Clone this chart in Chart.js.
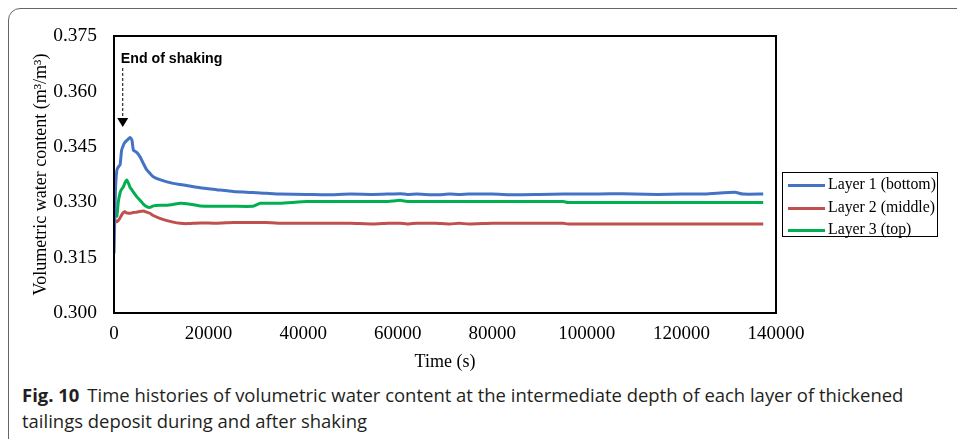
<!DOCTYPE html>
<html lang="en">
  <head>
    <meta charset="UTF-8" />
    <title>Volumetric water content</title>
    <style>
      html, body {
        margin: 0;
        padding: 0;
        width: 957px;
        height: 439px;
        overflow: hidden;
        background: #fff;
      }
      .frame {
        position: absolute;
        left: 8px;
        top: 8px;
        width: 1000px;
        height: 500px;
        border: 1.5px solid #666;
        border-radius: 12px;
      }
      .chartBox {
        position: absolute;
        left: 0;
        top: 0;
        width: 957px;
        height: 375px;
      }
      .legend {
        position: absolute;
        left: 782px;
        top: 172px;
        width: 154px;
        height: 63px;
        border: 1.5px solid #000;
        font-family: "Liberation Serif", "Times New Roman", serif;
        font-size: 15.8px;
        color: #000;
      }
      .legend .item {
        position: absolute;
        left: 5px;
        height: 20px;
        line-height: 20px;
        white-space: nowrap;
      }
      .legend .swatch {
        display: inline-block;
        width: 37px;
        height: 3px;
        vertical-align: middle;
        margin-right: 3px;
      }
      .caption {
        position: absolute;
        left: 22px;
        font-family: "Open Sans", "Noto Sans", sans-serif;
        font-size: 18.5px;
        line-height: 22px;
        color: #231f20;
        white-space: nowrap;
        transform-origin: 0 50%;
      }
      .caption b {
        margin-right: 8px;
      }
    </style>
  </head>
  <body>
    <div class="frame"></div>
    <div class="chartBox"><canvas id="vwc" width="957" height="375"></canvas></div>
    <div class="legend" id="legend"></div>
    <div class="caption" id="cap1" style="top: 384px"><b>Fig. 10</b>Time histories of volumetric water content at the intermediate depth of each layer of thickened</div>
    <div class="caption" id="cap2" style="top: 410px">tailings deposit during and after shaking</div>

    <script src="https://cdn.jsdelivr.net/npm/chart.js"></script>
    <script>
      // time (s)
      const times = [0, 300, 600, 900, 1300, 1600, 2000, 2300, 2700, 3100, 3400, 3800, 4100, 4800, 5500,
        6200, 6900, 7600, 8300, 9700, 11200, 12500, 14000, 15400, 18200, 21700, 25200, 29400, 30900, 32300,
        35100, 40800, 45000, 50000, 54800, 58000, 60500, 62000, 64000, 68000, 71000, 73000, 75000, 80000,
        85000, 90000, 95000, 96000, 100000, 105000, 110000, 115000, 120000, 125000, 131300, 133000, 137300];

      const layer1 = [0.3161, 0.3330, 0.3387, 0.3395, 0.3402, 0.3440, 0.3455, 0.3462, 0.3467, 0.3472, 0.3475,
        0.3468, 0.3441, 0.3435, 0.3423, 0.3405, 0.3388, 0.3378, 0.3369, 0.3361, 0.3355, 0.3351, 0.3348,
        0.3345, 0.3339, 0.3334, 0.3329, 0.3326, 0.3325, 0.3324, 0.3322, 0.3321, 0.3320, 0.3322, 0.3321,
        0.3322, 0.3323, 0.3321, 0.3322, 0.3320, 0.3322, 0.3321, 0.3322, 0.3322, 0.3320, 0.3321, 0.3322,
        0.3322, 0.3322, 0.3323, 0.3322, 0.3321, 0.3322, 0.3322, 0.3327, 0.3322, 0.3322];

      const layer2 = [0.3256, 0.3250, 0.3247, 0.3250, 0.3258, 0.3265, 0.3272, 0.3274, 0.3271, 0.3270, 0.3270,
        0.3271, 0.3272, 0.3273, 0.3275, 0.3276, 0.3273, 0.3270, 0.3264, 0.3256, 0.3250, 0.3246, 0.3243,
        0.3242, 0.3244, 0.3243, 0.3245, 0.3245, 0.3245, 0.3245, 0.3243, 0.3243, 0.3243, 0.3243, 0.3241,
        0.3243, 0.3243, 0.3241, 0.3243, 0.3243, 0.3241, 0.3243, 0.3241, 0.3243, 0.3243, 0.3243, 0.3243,
        0.3241, 0.3241, 0.3241, 0.3241, 0.3241, 0.3241, 0.3241, 0.3241, 0.3241, 0.3241];

      const layer3 = [0.3274, 0.3268, 0.3262, 0.3300, 0.3326, 0.3335, 0.3342, 0.3352, 0.3360, 0.3350, 0.3340,
        0.3333, 0.3327, 0.3315, 0.3305, 0.3295, 0.3288, 0.3286, 0.3290, 0.3292, 0.3292, 0.3294, 0.3297,
        0.3296, 0.3290, 0.3289, 0.3289, 0.3289, 0.3297, 0.3297, 0.3297, 0.3302, 0.3302, 0.3302, 0.3302,
        0.3302, 0.3305, 0.3302, 0.3302, 0.3302, 0.3302, 0.3302, 0.3302, 0.3302, 0.3302, 0.3302, 0.3302,
        0.3299, 0.3299, 0.3299, 0.3299, 0.3299, 0.3299, 0.3299, 0.3299, 0.3299, 0.3299];

      const seriesNames = ["Layer 1 (bottom)", "Layer 2 (middle)", "Layer 3 (top)"];
      const seriesColors = ["#4472C4", "#C0504D", "#00B050"];
      const yTicks = [0.300, 0.315, 0.330, 0.345, 0.360, 0.375];
      const xTicks = [0, 20000, 40000, 60000, 80000, 100000, 120000, 140000];
      const shakeEnd = 1850; // s, where the arrow points

      const serif = "'Liberation Serif', 'Times New Roman', serif";

      const toPoints = (vals) => times.map((t, i) => ({ x: t, y: vals[i] }));

      const datasets = [layer1, layer2, layer3].map((vals, i) => ({
        label: seriesNames[i],
        data: toPoints(vals),
        borderColor: seriesColors[i],
        backgroundColor: seriesColors[i],
        borderWidth: 3,
        pointRadius: 0,
        tension: 0.15,
      }));

      // box round the plot + "End of shaking" arrow
      const extras = {
        id: "extras",
        afterDatasetsDraw(chart) {
          const { ctx, chartArea: a, scales } = chart;
          ctx.save();
          ctx.strokeStyle = "#000";
          ctx.lineWidth = 2;
          ctx.strokeRect(a.left, a.top, a.right - a.left, a.bottom - a.top);

          const ax = scales.x.getPixelForValue(shakeEnd);
          ctx.fillStyle = "#000";
          ctx.font = "bold 14.2px 'Liberation Sans', Arial, sans-serif";
          ctx.textBaseline = "middle";
          ctx.fillText("End of shaking", ax - 2, 59.5);

          ctx.lineWidth = 1;
          ctx.setLineDash([3, 2]);
          ctx.beginPath();
          ctx.moveTo(ax, 68);
          ctx.lineTo(ax, 118);
          ctx.stroke();
          ctx.setLineDash([]);
          ctx.beginPath();
          ctx.moveTo(ax - 5.5, 118);
          ctx.lineTo(ax + 5.5, 118);
          ctx.lineTo(ax, 127);
          ctx.closePath();
          ctx.fill();
          ctx.restore();
        },
      };

      new Chart(document.getElementById("vwc"), {
        type: "line",
        data: { datasets },
        options: {
          responsive: false,
          animation: false,
          layout: { padding: { left: 0, top: 36, right: 181, bottom: 0 } },
          plugins: { legend: { display: false }, tooltip: { enabled: false } },
          scales: {
            x: {
              type: "linear",
              min: 0,
              max: 140000,
              afterFit: (s) => { s.height = 62; },
              afterBuildTicks: (s) => { s.ticks = xTicks.map((v) => ({ value: v })); },
              grid: { display: false, drawTicks: false },
              border: { display: false },
              ticks: {
                padding: 10,
                color: "#000",
                font: { family: serif, size: 19 },
                maxRotation: 0,
                callback: (v) => String(v),
              },
              title: {
                display: true,
                text: "Time (s)",
                color: "#000",
                font: { family: serif, size: 18 },
                padding: { top: 0, bottom: 2 },
              },
            },
            y: {
              min: 0.3,
              max: 0.375,
              afterFit: (s) => { s.width = 114; },
              afterBuildTicks: (s) => { s.ticks = yTicks.map((v) => ({ value: v })); },
              grid: { display: false, drawTicks: false },
              border: { display: false },
              ticks: {
                padding: 17,
                color: "#000",
                font: { family: serif, size: 19.5 },
                callback: (v) => Number(v).toFixed(3),
              },
              title: {
                display: true,
                text: "Volumetric water content (m³/m³)",
                color: "#000",
                font: { family: serif, size: 18 },
                padding: { top: 30, bottom: 0 },
              },
            },
          },
        },
        plugins: [extras],
      });

      // legend built from the series
      const legend = document.getElementById("legend");
      const rowTops = [1, 24, 46];
      seriesNames.forEach((name, i) => {
        const row = document.createElement("div");
        row.className = "item";
        row.style.top = rowTops[i] + "px";
        row.innerHTML = '<span class="swatch" style="background:' + seriesColors[i] + '"></span>' + name;
        legend.appendChild(row);
      });

      // squeeze the caption to the narrow face of the original
      const cap1 = document.getElementById("cap1");
      const cap2 = document.getElementById("cap2");
      const sx = 881 / cap1.scrollWidth;
      cap1.style.transform = "scaleX(" + sx + ")";
      cap2.style.transform = "scaleX(" + sx + ")";
    </script>
  </body>
</html>
